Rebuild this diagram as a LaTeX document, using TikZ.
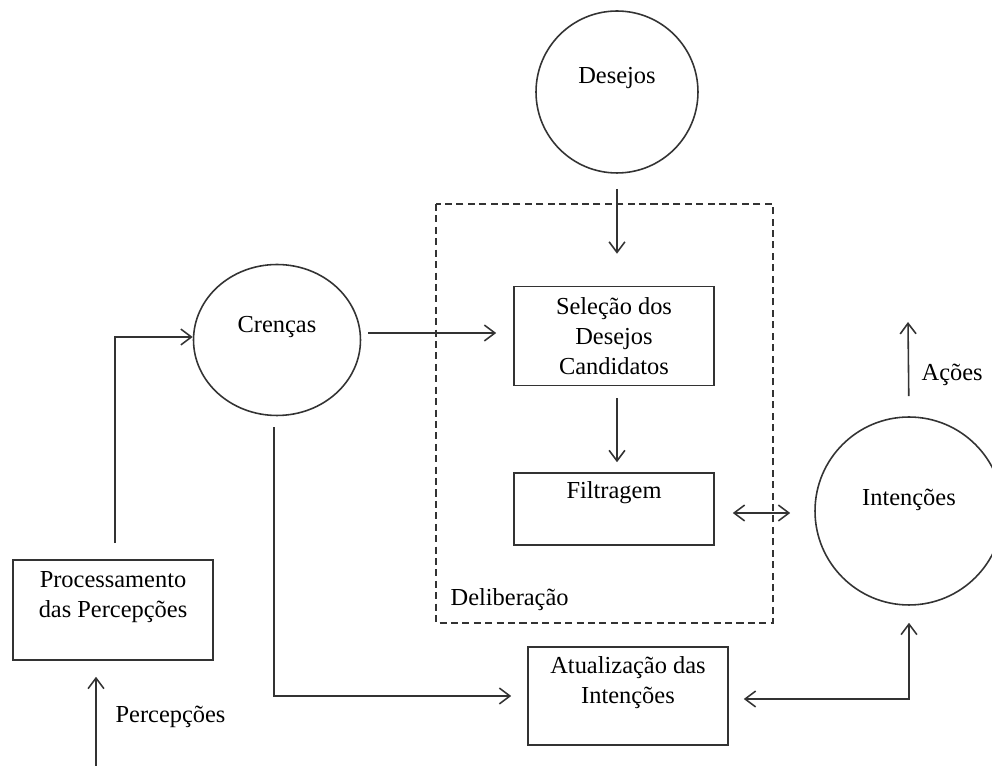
\documentclass[tikz,border=0pt]{standalone}
\usepackage{fontspec}
\setmainfont{Liberation Serif}
\usetikzlibrary{shapes.geometric,arrows.meta}
\colorlet{linha}{black!80}

\begin{document}
\begin{tikzpicture}[x=0.02cm, y=-0.02cm, line width=0.9pt,
  font=\fontsize{13.9}{17}\selectfont,
  caixa/.style={draw=linha, rectangle, minimum width=4cm, align=center, inner sep=0pt},
  bola/.style={draw=linha, circle, inner sep=0pt},
  seta/.style={draw=linha, -{Straight Barb[length=6pt,width=9pt]}},
  seta2/.style={draw=linha, {Straight Barb[length=6pt,width=9pt]}-{Straight Barb[length=6pt,width=9pt]}}]
\useasboundingbox (0,0) rectangle (992,766); %page size
\clip (0,0) rectangle (992,766); %cut the right circle
\node[bola, minimum size=3.24cm, label={[yshift=0.28cm]center:Desejos}] (desejos) at (617,92) {}; %top circle
\node[draw=linha, ellipse, minimum width=3.34cm, minimum height=3.02cm, inner sep=0pt, label={[yshift=0.26cm]center:Crenças}] (crencas) at (277,340) {}; %left circle
\node[bola, minimum size=3.76cm, label={[yshift=0.22cm]center:Intenções}] (intencoes) at (909,511) {}; %right circle
\node[caixa, minimum height=1.98cm] (selecao) at (614,336) {Seleção dos\\Desejos\\Candidatos}; %first box
\node[caixa, minimum height=1.44cm, label={[yshift=0.32cm]center:Filtragem}] (filtragem) at (614,509) {}; %second box
\node[caixa, minimum height=1.96cm, label={[align=center,yshift=0.26cm]center:Atualização das\\Intenções}] (atualizacao) at (628,696) {}; %bottom box
\node[caixa, minimum height=2cm, label={[align=center,yshift=0.26cm]center:Processamento\\das Percepções}] (proc) at (113,610) {}; %input box
\draw[linha, dash pattern=on 4pt off 2.5pt, line width=0.7pt] (436,204) rectangle (773,623); %deliberation frame
\node[anchor=west] (delibTxt) at (444,600) {Deliberação}; %frame label
\coordinate (acoes) at (908,322); %output end
\coordinate (percepcoes) at (96,770); %input end
\node[anchor=west] (acoesTxt) at (915,375) {Ações}; %output label
\node[anchor=west] (percTxt) at (109,717) {Percepções}; %input label
\draw[seta, shorten <=0.3cm, shorten >=0.64cm] (desejos.south) -- (desejos.south |- selecao.north); %desires in
\draw[seta, shorten <=0.24cm, shorten >=0.2cm] (desejos.south |- selecao.south) -- (desejos.south |- filtragem.north); %select to filter
\draw[seta, shorten <=0.14cm, shorten >=0.34cm] ([yshift=0.14cm]crencas.east) -- ([yshift=0.14cm]crencas.east -| selecao.west); %beliefs in
\draw[seta2, shorten <=0.36cm, shorten >=0.48cm] ([yshift=-0.08cm]filtragem.east) -- ([yshift=-0.08cm]filtragem.east -| intencoes.west); %filter and intentions
\draw[seta, shorten <=0.4cm] (intencoes.north) -- (acoes); %actions out
\draw[seta, shorten <=0.32cm] ([xshift=0.04cm]proc.north) |- ([yshift=0.06cm]crencas.west); %processing to beliefs
\draw[seta, shorten >=0.32cm] (percepcoes) -- (percepcoes |- proc.south); %perceptions in
\draw[seta, shorten <=0.22cm, shorten >=0.32cm] ([xshift=-0.06cm]crencas.south) |- (atualizacao.west); %beliefs to update
\draw[seta2, shorten <=0.3cm, shorten >=0.34cm] ([yshift=-0.06cm]atualizacao.east) -| (intencoes.south); %update and intentions
\end{tikzpicture}
\end{document}
